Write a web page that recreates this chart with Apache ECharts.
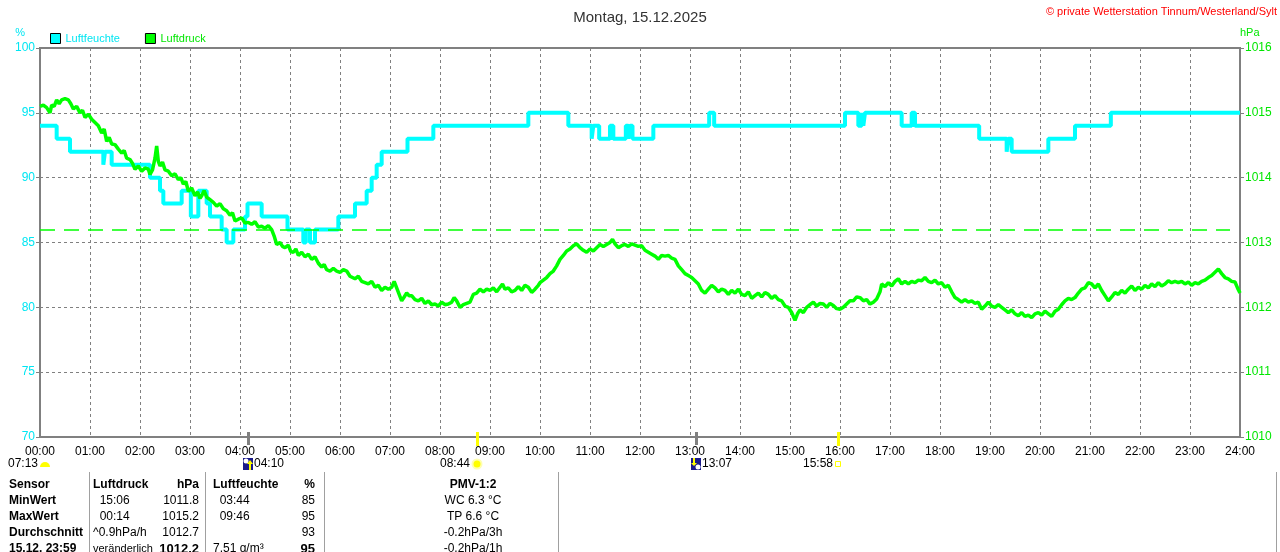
<!DOCTYPE html>
<html>
<head>
<meta charset="utf-8">
<title>Montag, 15.12.2025</title>
<script src="https://cdn.jsdelivr.net/npm/echarts@6/dist/echarts.min.js"></script>
<style>
    html, body { margin: 0; padding: 0; background: #fff; }
    #chart { width: 1280px; height: 552px; }
</style>
</head>
<body>
<div id="chart"></div>
<script>
// Tagesgrafik Luftfeuchte / Luftdruck
var dayTitle = "Montag, 15.12.2025";
var copyright = "\u00a9 private Wetterstation Tinnum/Westerland/Sylt";

// Luftfeuchte in %, [Minute, Wert] an den Wechselstellen
var humidity = [
    [0, 94], [20, 93], [36, 92], [76, 91], [78, 92], [86, 91], [132, 90], [144, 89], [148, 88],
    [170, 89], [181, 87], [190, 89], [200, 88], [204, 87], [218, 86], [224, 85], [232, 86],
    [246, 87], [249, 88], [266, 87], [297, 86], [316, 85], [319, 86], [324, 85], [330, 86],
    [358, 87], [378, 88], [392, 89], [398, 90], [404, 91], [410, 92], [441, 93], [472, 94],
    [586, 95], [634, 94], [662, 93], [664, 94], [671, 93], [684, 94], [688, 93], [703, 94],
    [706, 93], [708, 94], [711, 93], [736, 94], [803, 95], [809, 94], [966, 95], [982, 94],
    [986, 95], [988, 94], [990, 95], [1034, 94], [1046, 95], [1050, 94], [1127, 93],
    [1160, 92], [1162, 93], [1166, 92], [1210, 93], [1242, 94], [1285, 95], [1440, 95]
];

// Luftdruck in hPa, [Minute, Wert]
var pressure = [
    [0, 1015.10], [4, 1015.12], [8, 1015.08], [12, 1015.00], [14, 1015.12], [17, 1015.10], [20, 1015.20], [23, 1015.14], [26, 1015.20], [30, 1015.22], [34, 1015.20], [37, 1015.14], [40, 1015.06], [44, 1015.10], [48, 1015.00], [51, 1015.04], [54, 1014.93], [58, 1014.98],
    [62, 1014.90], [66, 1014.85], [70, 1014.80], [74, 1014.69], [77, 1014.75], [80, 1014.56], [83, 1014.62], [86, 1014.52], [90, 1014.51], [94, 1014.44], [98, 1014.38], [101, 1014.42], [104, 1014.30], [108, 1014.28], [111, 1014.22], [114, 1014.13], [118, 1014.18],
    [122, 1014.10], [126, 1014.15], [130, 1014.13], [132, 1014.05], [135, 1014.12], [138, 1014.30], [140, 1014.49], [142, 1014.25], [144, 1014.18], [147, 1014.24], [150, 1014.12], [154, 1014.10], [158, 1014.03], [162, 1014.06], [166, 1013.97], [169, 1014.00], [172, 1013.90], [175, 1013.94], [178, 1013.79],
    [182, 1013.84], [186, 1013.72], [189, 1013.78], [192, 1013.68], [194, 1013.72], [197, 1013.80], [200, 1013.70], [204, 1013.66], [208, 1013.62], [212, 1013.56], [216, 1013.60], [220, 1013.52], [224, 1013.49], [228, 1013.42], [231, 1013.46], [234, 1013.33], [238, 1013.36],
    [242, 1013.38], [246, 1013.30], [250, 1013.31], [254, 1013.28], [258, 1013.32], [262, 1013.24], [266, 1013.25], [270, 1013.22], [274, 1013.26], [278, 1013.20], [281, 1013.10], [284, 1012.97], [288, 1013.00], [291, 1012.94], [294, 1012.92], [298, 1012.96],
    [301, 1012.86], [304, 1012.85], [307, 1012.90], [310, 1012.80], [314, 1012.85], [318, 1012.78], [322, 1012.82], [326, 1012.74], [330, 1012.78], [334, 1012.68], [338, 1012.62], [341, 1012.66], [344, 1012.58], [348, 1012.56], [352, 1012.60], [356, 1012.56],
    [360, 1012.54], [364, 1012.58], [368, 1012.56], [372, 1012.48], [375, 1012.46], [378, 1012.44], [382, 1012.48], [386, 1012.40], [390, 1012.38], [394, 1012.36], [398, 1012.40], [402, 1012.31], [406, 1012.34], [410, 1012.26], [414, 1012.31], [418, 1012.28],
    [422, 1012.31], [425, 1012.40], [428, 1012.30], [431, 1012.20], [434, 1012.10], [437, 1012.16], [440, 1012.22], [443, 1012.18], [446, 1012.18], [450, 1012.12], [454, 1012.10], [458, 1012.14], [462, 1012.06], [466, 1012.10], [470, 1012.04], [474, 1012.05], [478, 1012.02],
    [482, 1012.08], [486, 1012.04], [490, 1012.05], [494, 1012.08], [497, 1012.15], [500, 1012.10], [504, 1012.00], [508, 1012.04], [512, 1012.06], [516, 1012.08], [520, 1012.20], [524, 1012.22], [528, 1012.28], [532, 1012.24], [536, 1012.28],
    [540, 1012.26], [544, 1012.30], [548, 1012.24], [552, 1012.31], [555, 1012.36], [558, 1012.28], [562, 1012.30], [566, 1012.24], [570, 1012.26], [574, 1012.32], [578, 1012.26], [582, 1012.34], [586, 1012.31], [590, 1012.23], [594, 1012.28], [598, 1012.34],
    [600, 1012.38], [604, 1012.42], [608, 1012.46], [612, 1012.52], [616, 1012.56], [620, 1012.64], [624, 1012.74], [628, 1012.80], [632, 1012.87], [636, 1012.90], [640, 1012.95], [644, 1012.98], [648, 1012.92], [652, 1012.88], [656, 1012.85],
    [660, 1012.90], [664, 1012.87], [668, 1012.92], [672, 1012.97], [676, 1012.94], [680, 1012.97], [684, 1013.00], [687, 1013.05], [690, 1012.98], [694, 1012.92], [698, 1012.95], [702, 1012.97], [706, 1012.94], [710, 1012.98], [714, 1012.96], [718, 1012.94],
    [722, 1012.95], [726, 1012.88], [730, 1012.85], [734, 1012.82], [738, 1012.79], [742, 1012.74], [746, 1012.80], [750, 1012.79], [754, 1012.80], [758, 1012.76], [762, 1012.74], [766, 1012.64], [770, 1012.58], [774, 1012.52], [778, 1012.49],
    [782, 1012.46], [786, 1012.41], [790, 1012.36], [794, 1012.26], [798, 1012.22], [802, 1012.28], [806, 1012.34], [810, 1012.30], [814, 1012.24], [818, 1012.28], [822, 1012.26], [826, 1012.20], [830, 1012.26], [834, 1012.22], [838, 1012.28],
    [842, 1012.20], [846, 1012.18], [850, 1012.24], [854, 1012.14], [858, 1012.18], [862, 1012.22], [866, 1012.16], [870, 1012.23], [874, 1012.20], [878, 1012.14], [882, 1012.18], [886, 1012.12], [890, 1012.10], [894, 1012.02], [898, 1012.00],
    [902, 1011.92], [906, 1011.80], [909, 1011.90], [912, 1011.96], [916, 1011.92], [920, 1012.00], [924, 1012.04], [928, 1012.08], [932, 1012.02], [936, 1012.06], [940, 1012.05], [944, 1012.00], [948, 1012.06], [952, 1012.03], [956, 1011.98],
    [960, 1011.97], [964, 1012.00], [968, 1012.05], [972, 1012.10], [976, 1012.10], [980, 1012.16], [984, 1012.15], [988, 1012.10], [992, 1012.12], [996, 1012.05], [1000, 1012.08], [1004, 1012.13], [1008, 1012.24], [1010, 1012.36], [1014, 1012.32], [1018, 1012.38],
    [1022, 1012.33], [1026, 1012.40], [1030, 1012.44], [1034, 1012.36], [1038, 1012.40], [1042, 1012.36], [1046, 1012.40], [1050, 1012.38], [1054, 1012.42], [1058, 1012.41], [1062, 1012.46], [1066, 1012.40], [1070, 1012.38], [1074, 1012.42], [1078, 1012.36],
    [1082, 1012.38], [1086, 1012.31], [1090, 1012.34], [1094, 1012.24], [1098, 1012.15], [1102, 1012.12], [1106, 1012.08], [1110, 1012.12], [1114, 1012.08], [1118, 1012.10], [1122, 1012.06], [1126, 1012.08], [1130, 1011.97], [1134, 1012.02], [1138, 1012.08],
    [1142, 1012.02], [1146, 1012.00], [1150, 1012.04], [1154, 1012.00], [1158, 1011.96], [1162, 1011.92], [1166, 1011.96], [1170, 1011.90], [1174, 1011.87], [1178, 1011.92], [1182, 1011.86], [1186, 1011.88], [1190, 1011.84], [1194, 1011.90], [1198, 1011.92],
    [1202, 1011.88], [1206, 1011.94], [1210, 1011.90], [1214, 1011.86], [1218, 1011.94], [1222, 1011.97], [1226, 1012.04], [1230, 1012.10], [1234, 1012.14], [1238, 1012.12], [1242, 1012.15], [1246, 1012.22], [1250, 1012.28], [1254, 1012.30], [1258, 1012.38],
    [1262, 1012.36], [1266, 1012.30], [1270, 1012.36], [1274, 1012.26], [1278, 1012.18], [1282, 1012.10], [1286, 1012.16], [1290, 1012.23], [1294, 1012.20], [1298, 1012.26], [1302, 1012.22], [1306, 1012.28], [1310, 1012.33], [1314, 1012.26], [1318, 1012.31],
    [1322, 1012.28], [1326, 1012.34], [1330, 1012.30], [1334, 1012.36], [1338, 1012.32], [1342, 1012.38], [1346, 1012.33], [1350, 1012.36], [1354, 1012.41], [1358, 1012.38], [1362, 1012.40], [1366, 1012.38], [1370, 1012.40], [1374, 1012.36], [1378, 1012.39],
    [1382, 1012.34], [1386, 1012.38], [1390, 1012.36], [1394, 1012.40], [1398, 1012.42], [1402, 1012.46], [1406, 1012.49], [1410, 1012.54], [1414, 1012.59], [1418, 1012.52], [1422, 1012.46], [1426, 1012.44], [1430, 1012.40], [1434, 1012.39], [1437, 1012.30], [1440, 1012.22]
];

// Normaldruck (gestrichelte Linie)
var stdPressure = 1013.2;

// Sonne / Mond unter der Zeitachse
var sunMoonAt = [0, 250, 524, 787, 958];
var sunMoonTimes = ["07:13", "04:10", "08:44", "13:07", "15:58"];
var sunMoonKinds = ["dawn", "moonset", "sunrise", "moonrise", "sunset"];

// Tabelle
var tableSensor = ["Sensor", "MinWert", "MaxWert", "Durchschnitt", "15.12. 23:59"];
var tablePresInfo = ["Luftdruck", "  15:06", "  00:14", "^0.9hPa/h", "ver\u00e4nderlich"];
var tablePresValue = ["hPa", "1011.8", "1015.2", "1012.7", "1012.2"];
var tableHumInfo = ["Luftfeuchte", "  03:44", "  09:46", "", "7.51 g/m\u00b3"];
var tableHumValue = ["%", "85", "95", "93", "95"];
var tablePmv = ["PMV-1:2", "WC 6.3 \u00b0C", "TP 6.6 \u00b0C", "-0.2hPa/3h", "-0.2hPa/1h"];

(function () {
    var FONT = '"Liberation Sans", Arial, sans-serif';
    var humColor = '#00ffff';
    var humText = '#00e6f2';
    var presColor = '#00ff00';
    var presText = '#00e600';
    var grey = '#808080';

    var myChart = echarts.init(document.getElementById('chart'));

    function hhmm(m) {
        var h = Math.floor(m / 60), mm = m % 60;
        return (h < 10 ? '0' : '') + h + ':' + (mm < 10 ? '0' : '') + mm;
    }

    function txt(text, x, y, align, extra) {
        var s = {
            text: text, x: x, y: y, fill: '#000', align: align, verticalAlign: 'middle',
            fontSize: 12, fontFamily: FONT
        };
        for (var k in extra) s[k] = extra[k];
        return {type: 'text', style: s};
    }

    // Sonne / Mond zeichnen
    function renderSunMoon(params, api) {
        var i = api.value(2);
        var kind = sunMoonKinds[i];
        var p = api.coord([api.value(0), 70]);
        var x = Math.round(p[0]), base = Math.round(p[1]);
        var y = base + 27;
        var kids = [];
        var label = sunMoonTimes[i];

        if (kind === 'dawn') {
            kids.push({type: 'sector', shape: {cx: x + 5, cy: y + 3, r: 5, r0: 0, startAngle: Math.PI, endAngle: Math.PI * 2}, style: {fill: '#ffff00'}});
            kids.push(txt(label, x - 2, y, 'right'));
        } else if (kind === 'moonset' || kind === 'moonrise') {
            kids.push({type: 'rect', shape: {x: x - 1, y: base - 5, width: 3, height: 13}, style: {fill: grey}});
            kids.push({type: 'rect', shape: {x: x - 5, y: y - 6, width: 10, height: 12}, style: {fill: '#1a1a8a'}});
            if (kind === 'moonset') {
                kids.push({type: 'circle', shape: {cx: x - 2, cy: y - 3, r: 2.5}, style: {fill: '#ffffff'}});
                kids.push({type: 'polygon', shape: {points: [[x + 1, y + 6], [x + 1, y], [x - 1, y], [x + 2, y - 4], [x + 5, y], [x + 3, y], [x + 3, y + 6]]}, style: {fill: '#ffff00'}});
            } else {
                kids.push({type: 'circle', shape: {cx: x + 2, cy: y + 3, r: 2.5}, style: {fill: '#ffffff'}});
                kids.push({type: 'polygon', shape: {points: [[x - 3, y - 6], [x - 3, y - 1], [x - 5, y - 1], [x - 2, y + 2], [x + 1, y - 1], [x - 1, y - 1], [x - 1, y - 6]]}, style: {fill: '#ffff00'}});
            }
            kids.push(txt(label, x + 6, y, 'left'));
        } else if (kind === 'sunrise') {
            kids.push({type: 'rect', shape: {x: x - 1, y: base - 5, width: 3, height: 14}, style: {fill: '#ffff00'}});
            kids.push({type: 'circle', shape: {cx: x, cy: y, r: 5.5}, style: {fill: '#ffffb0'}});
            kids.push({type: 'circle', shape: {cx: x, cy: y, r: 3.5}, style: {fill: '#ffff00'}});
            kids.push(txt(label, x - 7, y, 'right'));
        } else {
            kids.push({type: 'rect', shape: {x: x - 1, y: base - 5, width: 3, height: 14}, style: {fill: '#ffff00'}});
            kids.push({type: 'rect', shape: {x: x - 2.5, y: y - 2.5, width: 5, height: 5}, style: {fill: '#ffffff', stroke: '#ffff00', lineWidth: 1}});
            kids.push(txt(label, x - 5, y, 'right'));
        }
        return {type: 'group', children: kids};
    }

    // Tabelle unten
    var rowY = [485, 501, 517, 533, 549];
    var cols = [
        [tableSensor, 9, 'left'],
        [tablePresInfo, 93, 'left'],
        [tablePresValue, 199, 'right'],
        [tableHumInfo, 213, 'left'],
        [tableHumValue, 315, 'right'],
        [tablePmv, 473, 'center']
    ];
    var graphics = [];
    cols.forEach(function (c, ci) {
        c[0].forEach(function (t, ri) {
            if (!t) return;
            var extra = {};
            if (ri === 0 || ci === 0) extra.fontWeight = 'bold';
            if (ri === 4 && (ci === 2 || ci === 4)) {
                extra.fontWeight = 'bold';
                extra.fontSize = 13;
            }
            if (ri === 4 && ci === 1) extra.fontSize = 11;
            graphics.push(txt(t, c[1], rowY[ri], c[2], extra));
        });
    });
    [89, 205, 324, 558, 1276].forEach(function (x) {
        graphics.push({type: 'line', shape: {x1: x + 0.5, y1: 472, x2: x + 0.5, y2: 552}, style: {stroke: '#a0a0a0', lineWidth: 1}});
    });
    graphics.push({
        type: 'text', right: 3, top: 6,
        style: {text: copyright, fill: '#ff0000', fontSize: 11, fontFamily: FONT}
    });

    var option = {
        animation: false,
        backgroundColor: '#ffffff',
        title: {
            text: dayTitle,
            left: 'center',
            top: 5,
            textStyle: {fontFamily: FONT, fontSize: 15, fontWeight: 'normal', color: '#333'}
        },
        legend: {
            left: 50,
            top: 33,
            padding: 0,
            icon: 'rect',
            itemWidth: 10,
            itemHeight: 10,
            itemGap: 25,
            itemStyle: {borderColor: '#000', borderWidth: 1},
            textStyle: {fontFamily: FONT, fontSize: 11},
            data: [
                {name: 'Luftfeuchte', textStyle: {color: humText}},
                {name: 'Luftdruck', textStyle: {color: presText}}
            ]
        },
        grid: {
            left: 40,
            right: 40,
            top: 48,
            bottom: 115,
            show: true,
            borderColor: grey,
            borderWidth: 2
        },
        xAxis: {
            type: 'value',
            min: 0,
            max: 1440,
            interval: 60,
            axisLine: {lineStyle: {color: grey, width: 2}},
            axisTick: {show: false},
            axisLabel: {
                formatter: function (v) { return hhmm(v); },
                color: '#000',
                fontSize: 12,
                fontFamily: FONT,
                margin: 9
            },
            splitLine: {show: true, lineStyle: {color: grey, type: [3, 3], width: 1}}
        },
        yAxis: [{
            type: 'value',
            min: 70,
            max: 100,
            interval: 5,
            name: '%',
            nameGap: 10,
            nameTextStyle: {color: humText, fontSize: 11, fontFamily: FONT, align: 'right', padding: [0, 15, 0, 0]},
            axisLine: {show: true, lineStyle: {color: grey, width: 2}},
            axisTick: {show: true, length: 4, lineStyle: {color: grey}},
            axisLabel: {color: humText, fontSize: 12, fontFamily: FONT, margin: 5},
            splitLine: {show: true, lineStyle: {color: grey, type: [3, 3], width: 1}}
        }, {
            type: 'value',
            min: 1010,
            max: 1016,
            interval: 1,
            position: 'right',
            name: 'hPa',
            nameGap: 10,
            nameTextStyle: {color: presText, fontSize: 11, fontFamily: FONT, align: 'left', padding: [0, 0, 0, 0]},
            axisLine: {show: true, lineStyle: {color: grey, width: 2}},
            axisTick: {show: true, length: 4, lineStyle: {color: grey}},
            axisLabel: {
                color: presText, fontSize: 12, fontFamily: FONT, margin: 5,
                formatter: function (v) { return String(v); }
            },
            splitLine: {show: false}
        }],
        graphic: graphics,
        series: [{
            name: 'Luftfeuchte',
            type: 'line',
            yAxisIndex: 0,
            step: 'end',
            showSymbol: false,
            symbol: 'none',
            itemStyle: {color: humColor},
            lineStyle: {color: humColor, width: 4},
            z: 3,
            data: humidity
        }, {
            name: 'Luftdruck',
            type: 'line',
            yAxisIndex: 1,
            showSymbol: false,
            symbol: 'none',
            itemStyle: {color: presColor},
            lineStyle: {color: presColor, width: 3.5},
            z: 4,
            data: pressure,
            markLine: {
                silent: true,
                symbol: 'none',
                label: {show: false},
                lineStyle: {color: presColor, type: [15, 9], width: 1.5},
                data: [[{coord: [0, stdPressure]}, {coord: [1428, stdPressure]}]]
            }
        }, {
            name: 'SonneMond',
            type: 'custom',
            yAxisIndex: 0,
            clip: false,
            silent: true,
            z: 10,
            renderItem: renderSunMoon,
            encode: {x: 0, y: 1},
            data: sunMoonAt.map(function (m, i) { return [m, 70, i]; })
        }]
    };

    myChart.setOption(option);
    window.addEventListener("resize", function () {
        myChart.resize();
    });
})();
</script>
</body>
</html>
